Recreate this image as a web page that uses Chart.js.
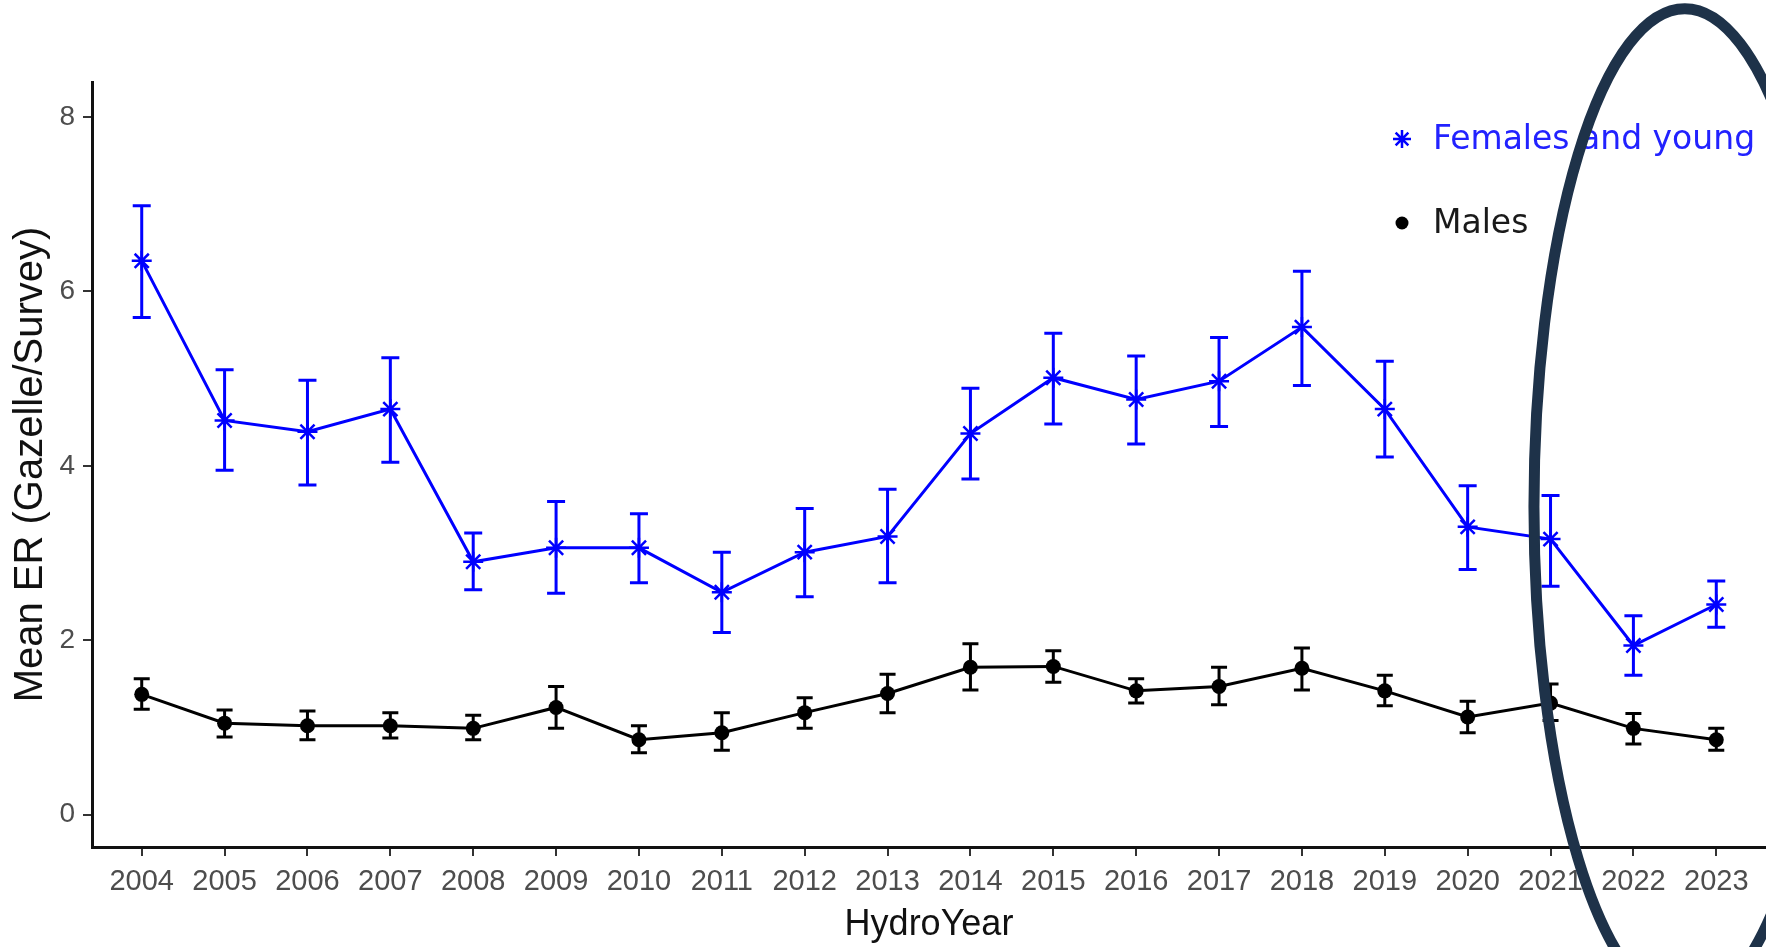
<!DOCTYPE html>
<html>
<head>
<meta charset="utf-8">
<style>
  html, body { margin: 0; padding: 0; background: #fff; overflow: hidden; }
  #wrap { width: 1766px; height: 947px; position: relative; }
  canvas { display: block; }
</style>
<script src="https://cdn.jsdelivr.net/npm/chart.js@4/dist/chart.umd.min.js"></script>
</head>
<body>
<div id="wrap"><canvas id="myChart"></canvas></div>
<script>
const years = [2004, 2005, 2006, 2007, 2008, 2009, 2010, 2011, 2012, 2013,
               2014, 2015, 2016, 2017, 2018, 2019, 2020, 2021, 2022, 2023];
const yTicks = [0, 2, 4, 6, 8];

// Females and young: mean and error bar ends
const females      = [6.35, 4.52, 4.39, 4.65, 2.90, 3.06, 3.06, 2.55, 3.01, 3.19,
                      4.37, 5.01, 4.76, 4.97, 5.59, 4.65, 3.30, 3.16, 1.94, 2.41];
const femalesUpper = [6.98, 5.10, 4.98, 5.24, 3.23, 3.59, 3.45, 3.01, 3.51, 3.73,
                      4.89, 5.52, 5.26, 5.47, 6.23, 5.20, 3.77, 3.66, 2.28, 2.68];
const femalesLower = [5.70, 3.95, 3.78, 4.04, 2.58, 2.54, 2.66, 2.09, 2.50, 2.66,
                      3.85, 4.48, 4.25, 4.45, 4.92, 4.10, 2.81, 2.62, 1.60, 2.15];

// Males
const males      = [1.38, 1.05, 1.02, 1.02, 0.99, 1.23, 0.86, 0.94, 1.17, 1.39,
                    1.69, 1.70, 1.42, 1.47, 1.68, 1.42, 1.12, 1.28, 0.99, 0.86];
const malesUpper = [1.56, 1.20, 1.19, 1.17, 1.14, 1.47, 1.02, 1.17, 1.34, 1.61,
                    1.96, 1.88, 1.56, 1.69, 1.91, 1.60, 1.30, 1.50, 1.16, 0.99];
const malesLower = [1.21, 0.89, 0.86, 0.88, 0.86, 0.99, 0.71, 0.74, 0.99, 1.17,
                    1.43, 1.52, 1.28, 1.26, 1.43, 1.25, 0.94, 1.08, 0.81, 0.74];

const BLUE = '#0000ff';

const errorBars = {
  id: 'errorBars',
  afterDatasetsDraw(chart) {
    const ctx = chart.ctx;
    const x = chart.scales.x, y = chart.scales.y;
    chart.data.datasets.forEach(ds => {
      ctx.save();
      ctx.strokeStyle = ds.borderColor;
      ctx.lineWidth = 3;
      ds.data.forEach((p, i) => {
        const px = x.getPixelForValue(p.x);
        const top = y.getPixelForValue(ds.upper[i]);
        const bot = y.getPixelForValue(ds.lower[i]);
        const w = ds.capHalf;
        ctx.beginPath();
        ctx.moveTo(px, top); ctx.lineTo(px, bot);
        ctx.moveTo(px - w, top); ctx.lineTo(px + w, top);
        ctx.moveTo(px - w, bot); ctx.lineTo(px + w, bot);
        ctx.stroke();
      });
      ctx.restore();
    });
  }
};

function drawStar(ctx, cx, cy, r) {
  ctx.beginPath();
  for (let k = 0; k < 4; k++) {
    const a = k * Math.PI / 4;
    ctx.moveTo(cx - r * Math.cos(a), cy - r * Math.sin(a));
    ctx.lineTo(cx + r * Math.cos(a), cy + r * Math.sin(a));
  }
  ctx.stroke();
}

// legend sits inside the plot, top right, like the original
const innerLegend = {
  id: 'innerLegend',
  afterDatasetsDraw(chart) {
    const ctx = chart.ctx;
    const area = chart.chartArea;
    const mx = area.right - 364;
    const tx = area.right - 333;
    ctx.save();
    ctx.font = '33px "DejaVu Sans"';
    ctx.textBaseline = 'middle';
    chart.data.datasets.forEach((ds, i) => {
      const ly = area.top + 57 + i * 84;
      ctx.strokeStyle = ds.borderColor;
      ctx.fillStyle = ds.borderColor;
      ctx.lineWidth = 2.5;
      if (ds.pointStyle === 'star') {
        drawStar(ctx, mx, ly, 9);
      } else {
        ctx.beginPath(); ctx.arc(mx, ly, 6.5, 0, Math.PI * 2); ctx.fill();
      }
      ctx.fillStyle = i === 0 ? '#2222ff' : '#1a1a1a';
      ctx.fillText(ds.label, tx, ly + 1);
    });
    ctx.restore();
  }
};

// highlight ring around the last years
const ring = {
  id: 'ring',
  afterDraw(chart) {
    const ctx = chart.ctx;
    const x = chart.scales.x, y = chart.scales.y;
    const cx = x.getPixelForValue(2022.62);
    const cy = y.getPixelForValue(3.53);
    const rx = x.getPixelForValue(2022.62 + 1.82) - cx;
    const ry = cy - y.getPixelForValue(3.53 + 5.71);
    ctx.save();
    ctx.strokeStyle = '#1e3249';
    ctx.lineWidth = 11;
    ctx.beginPath();
    ctx.ellipse(cx, cy, rx, ry, 0, 0, Math.PI * 2);
    ctx.stroke();
    ctx.restore();
  }
};

const ctx = document.getElementById('myChart').getContext('2d');
const chart = new Chart(ctx, {
  type: 'line',
  data: {
    datasets: [{
      label: 'Females and young',
      data: years.map((yr, i) => ({x: yr, y: females[i]})),
      upper: femalesUpper,
      lower: femalesLower,
      capHalf: 9,
      borderColor: BLUE,
      backgroundColor: BLUE,
      borderWidth: 3,
      pointStyle: 'star',
      pointRadius: 10,
      pointBorderWidth: 2.5,
      tension: 0
    }, {
      label: 'Males',
      data: years.map((yr, i) => ({x: yr, y: males[i]})),
      upper: malesUpper,
      lower: malesLower,
      capHalf: 8,
      borderColor: '#000000',
      backgroundColor: '#000000',
      borderWidth: 3,
      pointStyle: 'circle',
      pointRadius: 7.5,
      pointBorderWidth: 0,
      tension: 0
    }]
  },
  options: {
    responsive: true,
    maintainAspectRatio: false,
    animation: false,
    layout: { autoPadding: false, padding: { top: 82, right: 0, left: 0, bottom: 0 } },
    plugins: {
      legend: { display: false },
      tooltip: { enabled: false }
    },
    scales: {
      x: {
        type: 'linear',
        min: 2003.4,
        max: 2023.6,
        afterBuildTicks: axis => { axis.ticks = years.map(v => ({value: v})); },
        afterFit: axis => { axis.height = 100; axis.paddingLeft = 0; axis.paddingRight = 0; },
        grid: { drawOnChartArea: false, drawTicks: true, tickLength: 9, color: '#333', lineWidth: 2 },
        border: { display: true, color: '#111', width: 3 },
        ticks: {
          autoSkip: false,
          maxRotation: 0,
          padding: 9,
          color: '#4d4d4d',
          font: { family: '"Liberation Sans", Arial, sans-serif', size: 29 },
          callback: v => String(v)
        },
        title: {
          display: true,
          text: 'HydroYear',
          color: '#111',
          padding: { top: 0, bottom: 0 },
          font: { family: '"Liberation Sans", Arial, sans-serif', size: 36 }
        }
      },
      y: {
        min: -0.37,
        max: 8.4,
        afterBuildTicks: axis => { axis.ticks = yTicks.map(v => ({value: v})); },
        afterFit: axis => { axis.width = 92; },
        grid: { drawOnChartArea: false, drawTicks: true, tickLength: 9, color: '#333', lineWidth: 2 },
        border: { display: true, color: '#111', width: 3 },
        ticks: {
          padding: 8,
          color: '#4d4d4d',
          font: { family: '"Liberation Sans", Arial, sans-serif', size: 28 }
        },
        title: {
          display: true,
          text: 'Mean ER (Gazelle/Survey)',
          color: '#111',
          padding: { top: 7, bottom: 0 },
          font: { family: '"Liberation Sans", Arial, sans-serif', size: 40 }
        }
      }
    }
  },
  plugins: [errorBars, innerLegend, ring]
});
</script>
</body>
</html>
